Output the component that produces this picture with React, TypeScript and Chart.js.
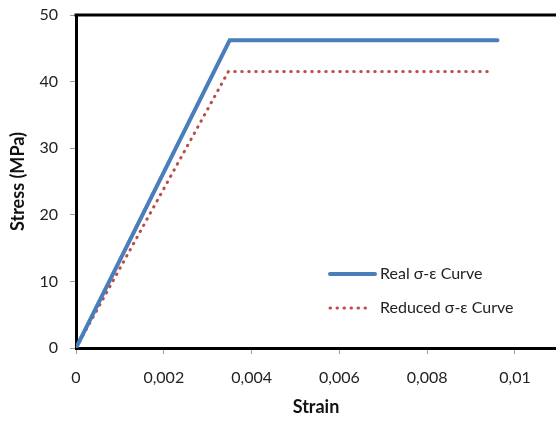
import React, { useEffect, useRef } from "react";
import { Chart, registerables } from "chart.js";

Chart.register(...registerables);

const realStrain = [0, 0.0035, 0.0096];
const realStress = [0, 46.2, 46.2];
const reducedStrain = [0, 0.00347, 0.0095];
const reducedStress = [0, 41.5, 41.5];
const xTickValues = [0, 0.002, 0.004, 0.006, 0.008, 0.01];
const xTickLabels = ["0", "0,002", "0,004", "0,006", "0,008", "0,01"];
const yTickValues = [0, 10, 20, 30, 40, 50];
const seriesNames = ["Real σ-ε Curve", "Reduced σ-ε Curve"];

const FONT = "Lato, 'Noto Sans', sans-serif";
const BLUE = "#4a7ebb";
const RED = "#be4b48";

const framePlugin = {
  id: "frame",
  afterDraw(chart: any) {
    const { ctx, chartArea } = chart;
    ctx.save();
    ctx.strokeStyle = "#000";
    ctx.lineWidth = 3;
    ctx.beginPath();
    ctx.moveTo(chartArea.left - 1.5, chartArea.top);
    ctx.lineTo(chartArea.right, chartArea.top);
    ctx.stroke();
    const lx0 = 330;
    const lx1 = 375;
    const items = [
      { y: 274, color: BLUE, dash: [] as number[], width: 4 },
      { y: 308, color: RED, dash: [0.5, 6.5], width: 3 },
    ];
    items.forEach((it, i) => {
      ctx.strokeStyle = it.color;
      ctx.lineWidth = it.width;
      ctx.lineCap = "round";
      ctx.setLineDash(it.dash);
      ctx.beginPath();
      ctx.moveTo(lx0, it.y);
      ctx.lineTo(i === 0 ? lx1 : lx1 - 3, it.y);
      ctx.stroke();
      ctx.setLineDash([]);
      ctx.fillStyle = "#222";
      ctx.font = `16px ${FONT}`;
      ctx.textBaseline = "middle";
      ctx.textAlign = "left";
      ctx.fillText(seriesNames[i], 380, it.y);
    });
    ctx.restore();
  },
};

export default function App() {
  const ref = useRef<HTMLCanvasElement>(null);
  useEffect(() => {
    if (!ref.current) return;
    const chart = new Chart(ref.current, {
      type: "scatter",
      data: {
        datasets: [
          {
            label: seriesNames[0],
            data: realStrain.map((x, i) => ({ x, y: realStress[i] })),
            showLine: true,
            borderColor: BLUE,
            borderWidth: 4,
            borderCapStyle: "round",
            pointRadius: 0,
            fill: false,
          },
          {
            label: seriesNames[1],
            data: reducedStrain.map((x, i) => ({ x, y: reducedStress[i] })),
            showLine: true,
            borderColor: RED,
            borderWidth: 3,
            borderDash: [0.5, 6.5],
            borderCapStyle: "round",
            pointRadius: 0,
            fill: false,
          },
        ],
      },
      options: {
        animation: false,
        responsive: false,
        maintainAspectRatio: false,
        layout: { padding: { top: 15, right: 0, bottom: 0, left: 0 } },
        plugins: {
          legend: { display: false },
          tooltip: { enabled: false },
        },
        scales: {
          x: {
            type: "linear",
            min: 0,
            max: 0.010934,
            afterBuildTicks: (scale: any) => {
              scale.ticks = xTickValues.map((v) => ({ value: v }));
            },
            afterFit: (scale: any) => {
              scale.height = 73;
              scale.paddingLeft = 0;
              scale.paddingRight = 0;
            },
            grid: {
              drawOnChartArea: false,
              drawTicks: true,
              tickLength: 6,
              tickColor: "#999",
              tickWidth: 1,
            },
            border: { display: true, color: "#000", width: 3 },
            ticks: {
              padding: 14,
              color: "#222",
              font: { family: FONT, size: 16 },
              maxRotation: 0,
              callback: (_v: any, i: number) => xTickLabels[i],
            },
            title: {
              display: true,
              text: "Strain",
              color: "#111",
              font: { family: FONT, size: 18, weight: "bold" },
              padding: { top: 0, bottom: 3 },
            },
          },
          y: {
            type: "linear",
            min: 0,
            max: 50,
            afterBuildTicks: (scale: any) => {
              scale.ticks = yTickValues.map((v) => ({ value: v }));
            },
            afterFit: (scale: any) => {
              scale.width = 76;
              scale.paddingTop = 0;
              scale.paddingBottom = 0;
            },
            grid: {
              drawOnChartArea: false,
              drawTicks: true,
              tickLength: 6,
              tickColor: "#999",
              tickWidth: 1,
            },
            border: { display: true, color: "#000", width: 3 },
            ticks: {
              padding: 12,
              color: "#222",
              font: { family: FONT, size: 16 },
            },
            title: {
              display: true,
              text: "Stress (MPa)",
              color: "#111",
              font: { family: FONT, size: 18, weight: "bold" },
              padding: { top: 7, bottom: 0 },
            },
          },
        },
      },
      plugins: [framePlugin],
    });
    return () => chart.destroy();
  }, []);
  return (
    <div style={{ position: "absolute", left: 0, top: 0, width: 556, height: 421, background: "#fff" }}>
      <canvas ref={ref} width={556} height={421} style={{ display: "block" }} />
    </div>
  );
}
